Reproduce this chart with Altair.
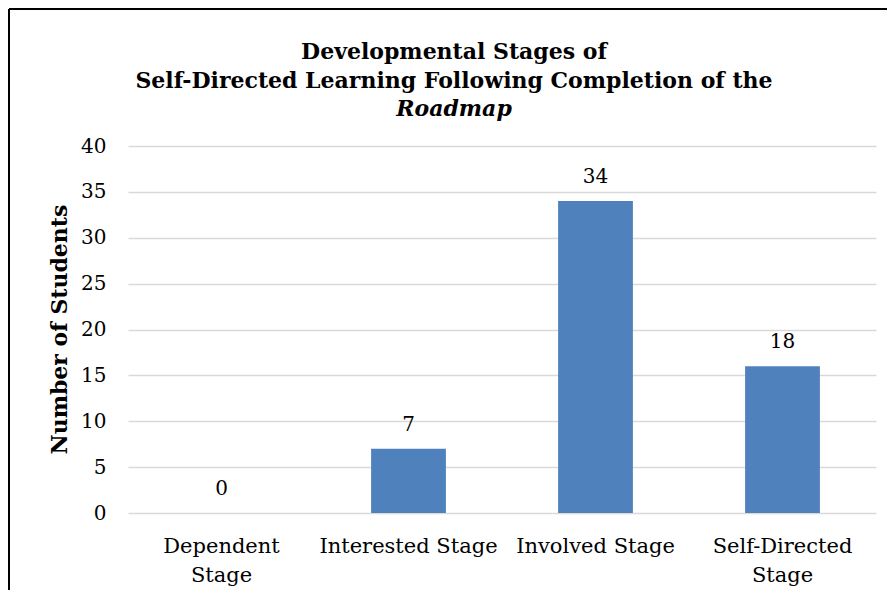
import altair as alt
import pandas as pd

categories = ["Dependent\nStage", "Interested Stage", "Involved Stage", "Self-Directed\nStage"]
values = [0, 7, 34, 16]
bar_labels = ["0", "7", "34", "18"]
title_lines = ["Developmental Stages of", "Self-Directed Learning Following Completion of the"]
title_italic = "Roadmap"
y_title = "Number of Students"

FONT = "DejaVu Serif"
W, H = 748, 367

df = pd.DataFrame({"cat": categories, "val": values, "lab": bar_labels})

x_enc = alt.X("cat:N", sort=categories, title=None,
              scale=alt.Scale(paddingInner=0.6, paddingOuter=0.3),
              axis=alt.Axis(labelExpr="split(datum.label, '\\n')", labelAngle=0,
                            labelFont=FONT, labelFontSize=21, labelColor="#000000",
                            labelPadding=33, labelLineHeight=29, labelBaseline="middle",
                            domain=False, ticks=False))
y_enc = alt.Y("val:Q", title=None,
              scale=alt.Scale(domain=[0, 40], nice=False),
              axis=alt.Axis(values=list(range(0, 41, 5)), labelFont=FONT, labelFontSize=20,
                            labelColor="#000000", labelPadding=22, domain=False, ticks=False,
                            gridColor="#d9d9d9", gridWidth=1.5))

bars = alt.Chart(df).mark_bar(color="#4f81bd").encode(x=x_enc, y=y_enc)
labels = alt.Chart(df).mark_text(font=FONT, fontSize=20, color="#000000",
                                 baseline="middle", dy=-24).encode(
    x=alt.X("cat:N", sort=categories), y=alt.Y("val:Q"), text="lab:N")

one = pd.DataFrame({"a": [0]})
cx = 326
TS = 22
t1 = alt.Chart(one).mark_text(font=FONT, fontSize=TS, fontWeight="bold", color="#000000",
                              baseline="alphabetic").encode(
    x=alt.value(cx), y=alt.value(59 - 146), text=alt.value(title_lines[0]))
t2 = alt.Chart(one).mark_text(font=FONT, fontSize=TS, fontWeight="bold", color="#000000",
                              baseline="alphabetic").encode(
    x=alt.value(cx), y=alt.value(88 - 146), text=alt.value(title_lines[1]))
t3 = alt.Chart(one).mark_text(font=FONT, fontSize=TS, fontWeight="bold", fontStyle="italic",
                              color="#000000", baseline="alphabetic").encode(
    x=alt.value(cx), y=alt.value(116 - 146), text=alt.value(title_italic))
yt = alt.Chart(one).mark_text(font=FONT, fontSize=22, fontWeight="bold", color="#000000",
                              angle=270, baseline="middle", align="center").encode(
    x=alt.value(60 - 128), y=alt.value(H / 2), text=alt.value(y_title))

frame_top = alt.Chart(one).mark_rule(color="#000000", strokeWidth=2).encode(
    x=alt.value(-119), x2=alt.value(W + 20), y=alt.value(-137))
frame_left = alt.Chart(one).mark_rule(color="#000000", strokeWidth=2).encode(
    x=alt.value(-119), y=alt.value(-137), y2=alt.value(H + 90))

chart = alt.layer(bars, labels, t1, t2, t3, yt, frame_top, frame_left).properties(
    width=W, height=H,
    autosize=alt.AutoSizeParams(type="none"),
    padding={"left": 120, "top": 138, "right": 11, "bottom": 77},
    background="#ffffff",
).configure_view(stroke=None)

chart.save("out.html", embed_options={"renderer": "svg", "actions": False})
